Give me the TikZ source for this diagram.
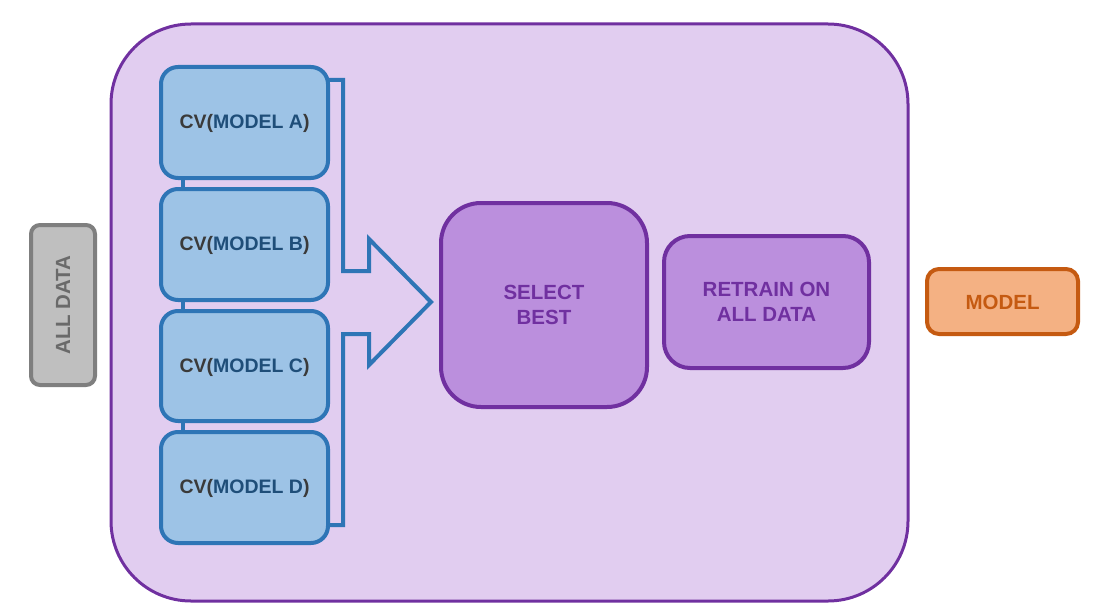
\documentclass[tikz,border=0pt]{standalone}
\usepackage{fontspec}
\setmainfont{Liberation Sans}
\begin{document}
\definecolor{frameline}{HTML}{7030A0}
\definecolor{framefill}{HTML}{E1CDF0}
\definecolor{cvfill}{HTML}{9DC3E6}
\definecolor{cvline}{HTML}{2E75B6}
\definecolor{cvtext}{HTML}{1F4E79}
\definecolor{cvgray}{HTML}{3A3A3A}
\definecolor{stepfill}{HTML}{BB8FDD}
\definecolor{outfill}{HTML}{F4B183}
\definecolor{outline}{HTML}{C55A11}
\definecolor{datafill}{HTML}{BFBFBF}
\definecolor{dataline}{HTML}{7F7F7F}
\definecolor{datatext}{HTML}{6A6A6A}
\begin{tikzpicture}[x=1pt,y=-1pt,
  cvbox/.style={draw=cvline,fill=cvfill,line width=4pt,rounded corners=17pt},
  stepbox/.style={draw=frameline,fill=stepfill,line width=4pt},
  lbl/.style={font=\fontsize{20.5}{25}\selectfont\bfseries,align=center,inner sep=0pt},
  cvlbl/.style={font=\fontsize{19.5}{23}\selectfont\bfseries,inner sep=0pt}]
\useasboundingbox (0,0) rectangle (1105,615);
% outer container
\draw[draw=frameline,fill=framefill,line width=3pt,rounded corners=80pt] (111,24) rectangle (908,601);
% input data
\draw[draw=dataline,fill=datafill,line width=4pt,rounded corners=9pt] (31,225) rectangle (95,385);
\node[lbl,text=datatext,rotate=90] (alldata) at (63,305) {ALL DATA};
% links between the CV boxes
\draw[cvline,line width=4pt] (183,178) -- (183,189) (183,300) -- (183,311) (183,421) -- (183,432);
% cross-validation boxes
\draw[cvbox] (161,67) rectangle (328,178);
\draw[cvbox] (161,189) rectangle (328,300);
\draw[cvbox] (161,311) rectangle (328,421);
\draw[cvbox] (161,432) rectangle (328,543);
\node[cvlbl] (cva) at (244.5,123) {\textcolor{cvgray}{CV(}\textcolor{cvtext}{MODEL A}\textcolor{cvgray}{)}};
\node[cvlbl] (cvb) at (244.5,245) {\textcolor{cvgray}{CV(}\textcolor{cvtext}{MODEL B}\textcolor{cvgray}{)}};
\node[cvlbl] (cvc) at (244.5,367) {\textcolor{cvgray}{CV(}\textcolor{cvtext}{MODEL C}\textcolor{cvgray}{)}};
\node[cvlbl] (cvd) at (244.5,488) {\textcolor{cvgray}{CV(}\textcolor{cvtext}{MODEL D}\textcolor{cvgray}{)}};
% bracket arrow gathering the results
\draw[cvline,line width=4pt,line join=miter] (328,80) -- (343,80) -- (343,271) -- (369,271) -- (369,239)
  -- (431,302) -- (369,365) -- (369,334) -- (343,334) -- (343,525) -- (328,525);
% selection and retraining
\draw[stepbox,rounded corners=40pt] (441,203) rectangle (647,407);
\node[lbl,text=frameline] (select) at (544,305) {SELECT\\BEST};
\draw[stepbox,rounded corners=26pt] (664,236) rectangle (869,368);
\node[lbl,text=frameline] (retrain) at (766.5,302) {RETRAIN ON\\ALL DATA};
% output
\draw[draw=outline,fill=outfill,line width=4pt,rounded corners=12pt] (927,269) rectangle (1078,334);
\node[lbl,text=outline] (model) at (1002.5,302) {MODEL};
\end{tikzpicture}
\end{document}
